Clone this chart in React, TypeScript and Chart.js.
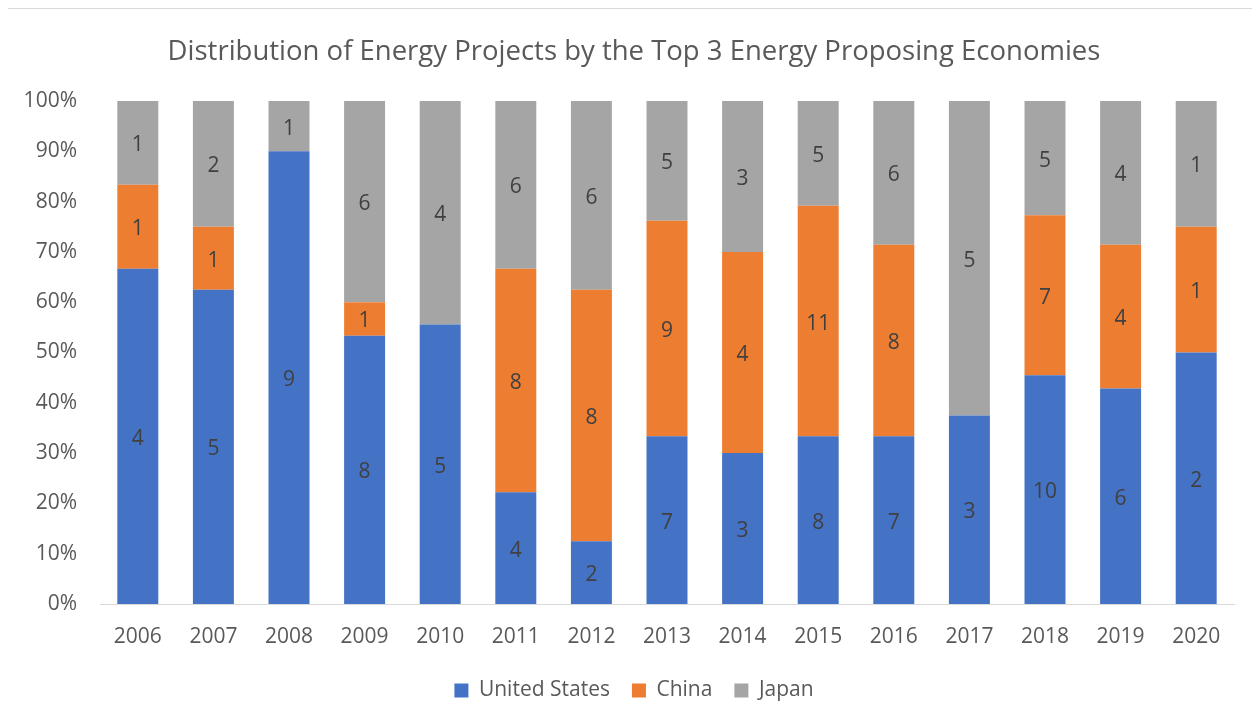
import React, { useEffect, useRef } from "react";
import { Chart, registerables } from "chart.js";

Chart.register(...registerables);

// ---- Data ----
const years = ["2006", "2007", "2008", "2009", "2010", "2011", "2012", "2013", "2014", "2015", "2016", "2017", "2018", "2019", "2020"];
const unitedStates = [4, 5, 9, 8, 5, 4, 2, 7, 3, 8, 7, 3, 10, 6, 2];
const china = [1, 1, 0, 1, 0, 8, 8, 9, 4, 11, 8, 0, 7, 4, 1];
const japan = [1, 2, 1, 6, 4, 6, 6, 5, 3, 5, 6, 5, 5, 4, 1];
const seriesNames = ["United States", "China", "Japan"];
const seriesColors = ["#4472C4", "#ED7D31", "#A5A5A5"];
const titleText = "Distribution of Energy Projects by the Top 3 Energy Proposing Economies";

const FONT = '"Open Sans", "Noto Sans", sans-serif';

const segmentLabels = {
  id: "segmentLabels",
  afterDatasetsDraw(chart: any) {
    const ctx = chart.ctx;
    ctx.save();
    ctx.font = `21px ${FONT}`;
    ctx.fillStyle = "#404040";
    ctx.textAlign = "center";
    ctx.textBaseline = "middle";
    chart.data.datasets.forEach((ds: any, di: number) => {
      const meta = chart.getDatasetMeta(di);
      meta.data.forEach((el: any, i: number) => {
        const c = ds.counts[i];
        if (!c) return;
        const { x, y, base } = el.getProps(["x", "y", "base"], true);
        ctx.fillText(String(c), x, (y + base) / 2 + 2.5);
      });
    });
    ctx.restore();
  },
};

export default function App() {
  const canvasRef = useRef<HTMLCanvasElement | null>(null);

  useEffect(() => {
    let chart: Chart | null = null;
    let cancelled = false;
    const build = () => {
      if (cancelled || !canvasRef.current) return;
      const seriesCounts = [unitedStates, china, japan];
      const totals = years.map((_, i) => unitedStates[i] + china[i] + japan[i]);
      chart = new Chart(canvasRef.current, {
        type: "bar",
        data: {
          labels: years,
          datasets: seriesCounts.map((counts, si) => ({
            label: seriesNames[si],
            data: counts.map((v, i) => (v / totals[i]) * 100),
            counts,
            backgroundColor: seriesColors[si],
            borderWidth: 0,
            barPercentage: 0.542,
            categoryPercentage: 1,
          })) as any,
        },
        options: {
          responsive: false,
          animation: false,
          devicePixelRatio: 1,
          layout: { padding: 0 },
          plugins: {
            title: {
              display: true,
              text: titleText,
              color: "#595959",
              font: { family: FONT, size: 27.5, weight: "normal" },
              padding: { top: 26.5, bottom: 32.5 },
            },
            legend: {
              position: "bottom",
              labels: {
                color: "#595959",
                font: { family: FONT, size: 21 },
                boxWidth: 14,
                boxHeight: 14,
                padding: 22,
              },
            },
            tooltip: { enabled: false },
          },
          scales: {
            x: {
              stacked: true,
              grid: { display: false, drawTicks: false },
              border: { display: true, color: "#D9D9D9", width: 1 },
              ticks: { color: "#595959", font: { family: FONT, size: 21 }, padding: 20, maxRotation: 0 },
              afterFit: (s: any) => {
                s.height = 54;
              },
            },
            y: {
              stacked: true,
              min: 0,
              max: 100,
              grid: { display: false, drawTicks: false },
              border: { display: false },
              ticks: {
                stepSize: 10,
                color: "#595959",
                font: { family: FONT, size: 21 },
                padding: 23,
                callback: (v: any) => `${v}%`,
              },
              afterFit: (s: any) => {
                s.width = 92;
              },
            },
            yRight: {
              type: "linear",
              position: "right",
              display: true,
              grid: { display: false, drawTicks: false },
              border: { display: false },
              ticks: { display: false },
              afterFit: (s: any) => {
                s.width = 26;
              },
            },
          },
        } as any,
        plugins: [segmentLabels],
      });
    };
    const fontsApi = (document as any).fonts;
    if (fontsApi && fontsApi.load) {
      Promise.all([fontsApi.load(`21px "Open Sans"`), fontsApi.load(`27px "Open Sans"`)])
        .catch(() => {})
        .then(build);
    } else {
      build();
    }
    return () => {
      cancelled = true;
      if (chart) chart.destroy();
    };
  }, []);

  return (
    <div
      style={{
        marginLeft: -1,
        borderLeft: "1px solid #D9D9D9",
        borderTop: "1px solid #D9D9D9",
        width: 1253,
        height: 702,
        background: "#FFFFFF",
      }}
    >
      <canvas ref={canvasRef} width={1252} height={702} style={{ display: "block", width: 1252, height: 702 }} />
    </div>
  );
}
